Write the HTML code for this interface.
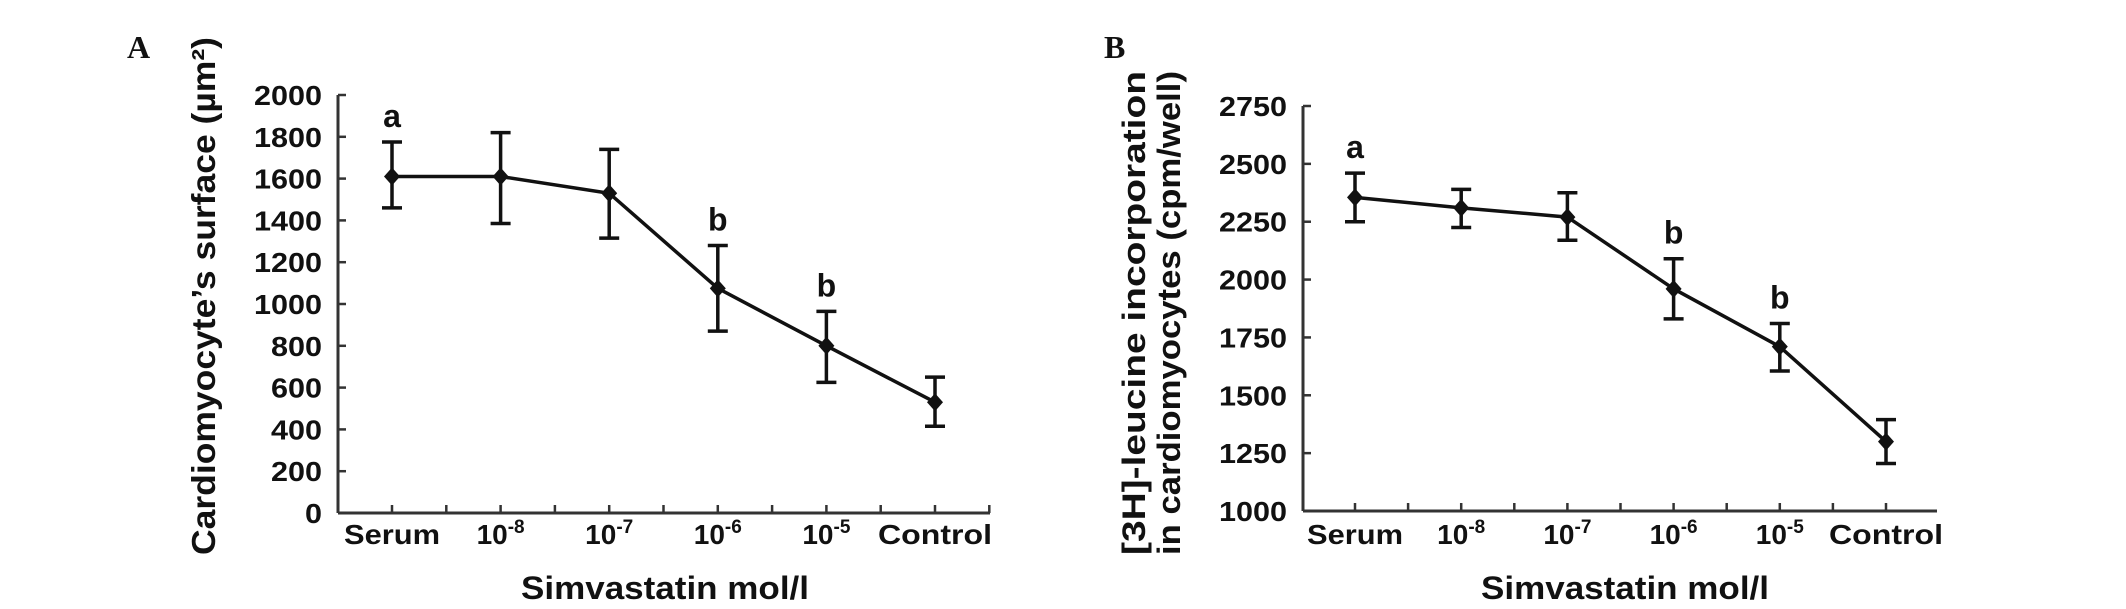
<!DOCTYPE html>
<html><head><meta charset="utf-8"><style>
html,body{margin:0;padding:0;background:#fff;}
svg{display:block;}
text{font-family:"Liberation Sans",Arial,sans-serif;font-weight:bold;fill:#111;}
</style></head><body>
<svg id="fig" width="2126" height="609" viewBox="0 0 2126 609" xmlns="http://www.w3.org/2000/svg">
<text x="127" y="58" style="font-family:'Liberation Serif',serif;font-size:32px;">A</text>
<text x="1104" y="58" style="font-family:'Liberation Serif',serif;font-size:32px;">B</text>
<text transform="translate(215,296) rotate(-90)" text-anchor="middle" textLength="518" lengthAdjust="spacingAndGlyphs" style="font-size:33px;">Cardiomyocyte’s surface (µm²)</text>
<text transform="translate(1145,313) rotate(-90)" text-anchor="middle" textLength="484" lengthAdjust="spacingAndGlyphs" style="font-size:32px;">[3H]-leucine incorporation</text>
<text transform="translate(1180,313) rotate(-90)" text-anchor="middle" textLength="484" lengthAdjust="spacingAndGlyphs" style="font-size:32px;">in cardiomyocytes (cpm/well)</text>
<text x="665" y="599" text-anchor="middle" textLength="288" lengthAdjust="spacingAndGlyphs" style="font-size:32px;">Simvastatin mol/l</text>
<text x="1625" y="599" text-anchor="middle" textLength="288" lengthAdjust="spacingAndGlyphs" style="font-size:32px;">Simvastatin mol/l</text>
</svg>
<script>
const categories = ["Serum","10-8","10-7","10-6","10-5","Control"];
const seriesA = [1610, 1610, 1530, 1075, 800, 530];
const errLowA = [1460, 1385, 1315, 870, 625, 415];
const errHighA = [1775, 1820, 1740, 1280, 965, 650];
const letterA = ["a","","","b","b",""];
const ticksA = [0,200,400,600,800,1000,1200,1400,1600,1800,2000];
const seriesB = [2355, 2310, 2270, 1960, 1710, 1300];
const errLowB = [2250, 2225, 2170, 1830, 1605, 1205];
const errHighB = [2460, 2390, 2375, 2090, 1810, 1395];
const letterB = ["a","","","b","b",""];
const ticksB = [1000,1250,1500,1750,2000,2250,2500,2750];

const NS = "http://www.w3.org/2000/svg";
const svg = document.getElementById('fig');
function mk(tag, attrs, parent){
  const e = document.createElementNS(NS, tag);
  for (const k in attrs) e.setAttribute(k, attrs[k]);
  (parent||svg).appendChild(e); return e;
}
function panel(p){
  const g = mk('g', {});
  
  
  const y = v => p.y0 + (v - p.vmin) / (p.vmax - p.vmin) * (p.y1 - p.y0);
  const x = i => p.xFirst + i * p.step;
  const base = y(p.vmin);
  const ya = mk('line', {x1:p.ax, x2:p.ax, y1:y(p.vmax), y2:base, stroke:'#333','stroke-width':3}, g);
  
  
  const xa = mk('line', {x1:p.ax, x2:p.axEnd, y1:base, y2:base, stroke:'#333','stroke-width':3}, g);
  
  
  p.ticks.forEach(t => {
    const ty = y(t);
    mk('line', {x1:p.ax, x2:p.ax+8, y1:ty, y2:ty, stroke:'#333','stroke-width':2.5}, g);
    const s = String(t);
    const tx = mk('text', {x:p.ax-16, y:ty+10, 'text-anchor':'end', 'font-size':'28px', textLength: s.length*17, lengthAdjust:'spacingAndGlyphs'}, g);
    
    
    tx.textContent = s;
  });
  for (let k = 0; k <= categories.length*2 - 1; k++) {
    const tx = p.xFirst + k * p.step / 2;
    if (tx > p.axEnd + 1) break;
    mk('line', {x1:tx, x2:tx, y1:base, y2:base-8, stroke:'#333','stroke-width':2.5}, g);
  }
  categories.forEach((c, i) => {
    const t = mk('text', {x:x(i), y:544, 'text-anchor':'middle', 'font-size':'28px'}, g);
    
    
    if (c.startsWith('10')) {
      t.textContent = '10';
      const s = mk('tspan', {dy:-11, 'font-size':'19px'}, t);
      s.textContent = c.slice(2);
    } else {
      t.textContent = c;
      t.setAttribute('textLength', c === 'Serum' ? 96 : 114);
      t.setAttribute('lengthAdjust', 'spacingAndGlyphs');
    }
  });
  const pts = p.vals.map((v, i) => x(i) + ',' + y(v)).join(' ');
  const pl = mk('polyline', {points:pts, fill:'none', stroke:'#111','stroke-width':3.5}, g);
  
  
  p.vals.forEach((v, i) => {
    const cx = x(i), lo = y(p.lo[i]), hi = y(p.hi[i]);
    const eb = mk('path', {d:`M${cx},${lo}V${hi}M${cx-10},${lo}H${cx+10}M${cx-10},${hi}H${cx+10}`, stroke:'#111','stroke-width':3.5, fill:'none'}, g);
    
    
    const cy = y(v);
    const m = mk('path', {d:`M${cx},${cy-9}L${cx+8},${cy}L${cx},${cy+9}L${cx-8},${cy}Z`, fill:'#111'}, g);
    
    
    if (p.letters[i]) {
      const l = mk('text', {x:cx, y:hi-15, 'text-anchor':'middle', 'font-size':'32px'}, g);
      
      
      l.textContent = p.letters[i];
    }
  });
}
panel({name:'panel-a-chart', ax:338, axEnd:990, xFirst:392, step:108.6, y0:513, y1:95, vmin:0, vmax:2000,
  ticks:ticksA, vals:seriesA, lo:errLowA, hi:errHighA, letters:letterA});
panel({name:'panel-b-chart', ax:1303, axEnd:1937, xFirst:1355, step:106.2, y0:511, y1:106, vmin:1000, vmax:2750,
  ticks:ticksB, vals:seriesB, lo:errLowB, hi:errHighB, letters:letterB});
</script>
</body></html>
